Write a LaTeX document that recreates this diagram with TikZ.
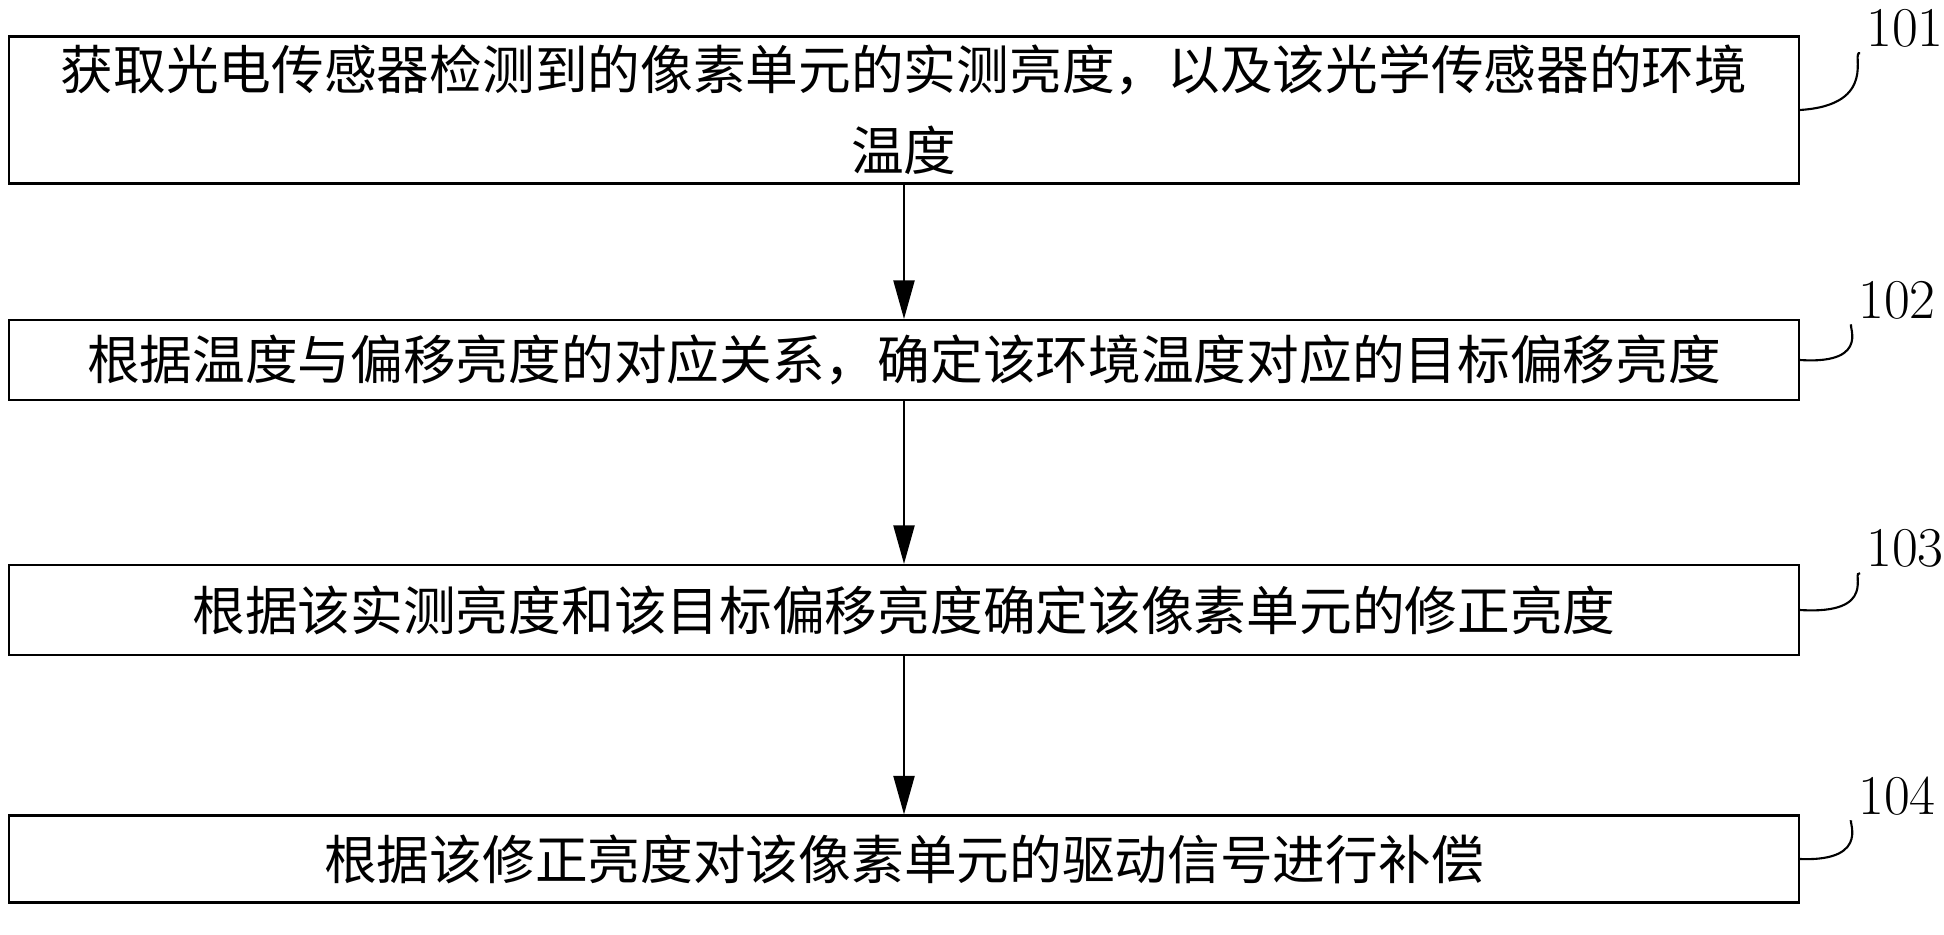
\documentclass[tikz,border=0pt]{standalone}
\usepackage{fontspec}
\newfontfamily\cjk{Noto Sans CJK SC}
\usetikzlibrary{positioning,arrows.meta}
\begin{document}
\begin{tikzpicture}[x=0.02cm,y=-0.02cm,
  stepbox/.style={draw,line width=1.2pt,minimum width=35.8cm,inner sep=0pt,align=center,font=\cjk\fontsize{30}{46}\selectfont},
  tag/.style={font=\fontsize{32}{34}\selectfont,anchor=center},
  link/.style={line width=1.2pt}]
  \useasboundingbox (0,0) rectangle (1944,935);

  \node[stepbox,minimum height=2.94cm] (S1) at (904,110) {获取光电传感器检测到的像素单元的实测亮度，以及该光学传感器的环境\\温度};
  \node[stepbox,minimum height=1.6cm] (S2) at (904,360) {根据温度与偏移亮度的对应关系，确定该环境温度对应的目标偏移亮度};
  \node[stepbox,minimum height=1.8cm] (S3) at (904,610) {根据该实测亮度和该目标偏移亮度确定该像素单元的修正亮度};
  \node[stepbox,minimum height=1.74cm] (S4) at (904,859) {根据该修正亮度对该像素单元的驱动信号进行补偿};

  \node[tag] (L1) at (1905,28) {101};
  \node[tag] (L2) at (1897,300) {102};
  \node[tag] (L3) at (1905,548) {103};
  \node[tag] (L4) at (1897,796) {104};

  \draw[-{Triangle[length=22pt,width=12pt]},link] (S1) -- (S2);
  \draw[-{Triangle[length=22pt,width=12pt]},link] (S2) -- (S3);
  \draw[-{Triangle[length=22pt,width=12pt]},link] (S3) -- (S4);

  % leader curves
  \draw[link] (S1.east) .. controls (1880,105) and (1850,50) .. (L1.south west);
  \draw[link] (S2.east) .. controls (1875,365) and (1845,320) .. (L2.south west);
  \draw[link] (S3.east) .. controls (1880,615) and (1850,570) .. (L3.south west);
  \draw[link] (S4.east) .. controls (1875,862) and (1845,815) .. (L4.south west);
\end{tikzpicture}
\end{document}
